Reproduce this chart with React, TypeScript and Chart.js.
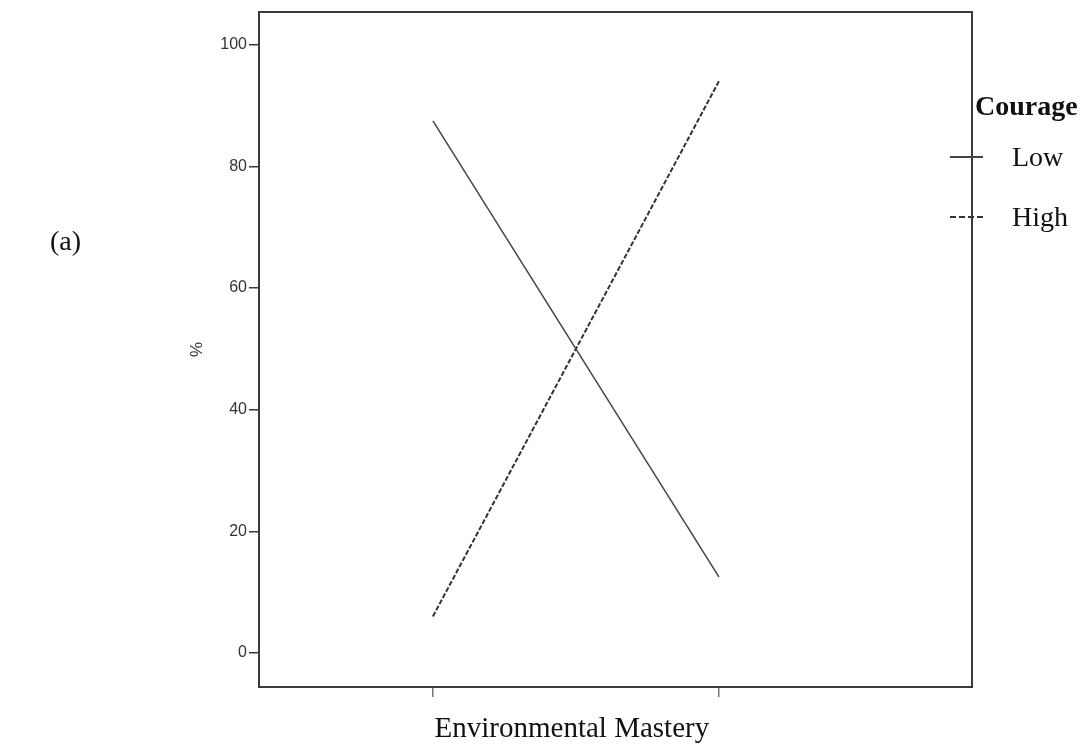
import React, { useEffect, useRef } from "react";
import { Chart, registerables } from "chart.js";

Chart.register(...registerables);

// ---- data ----
const categories = ["Low", "High"]; // Environmental Mastery levels (x = 0, 1)
const xPositions = [0, 1];
const lowCourage = [87.5, 12.5];
const highCourage = [6.0, 94.0];
const yTickValues = [0, 20, 40, 60, 80, 100];
const seriesLabels = ["Low", "High"];
const legendTitle = "Courage";
const xTitle = "Environmental Mastery";
const yTitle = "%";
const panelLabel = "(a)";

const SERIF = "'Liberation Serif', 'DejaVu Serif', serif";
const SANS = "'Liberation Sans', Arial, sans-serif";

const decorPlugin = {
  id: "decor",
  afterDraw(chart: any) {
    const { ctx, chartArea, scales } = chart;
    const { left, top, right, bottom } = chartArea;
    ctx.save();
    // frame
    ctx.strokeStyle = "#3a3a3a";
    ctx.lineWidth = 2;
    ctx.setLineDash([]);
    ctx.beginPath();
    ctx.rect(left, top, right - left, bottom - top);
    ctx.stroke();

    // y title
    ctx.fillStyle = "#333";
    ctx.font = `17px ${SANS}`;
    ctx.textAlign = "center";
    ctx.textBaseline = "middle";
    ctx.save();
    ctx.translate(left - 62, (top + bottom) / 2);
    ctx.rotate(-Math.PI / 2);
    ctx.fillText(yTitle, 0, 0);
    ctx.restore();

    // x title
    const x0 = scales.x.getPixelForValue(xPositions[0]);
    const x1 = scales.x.getPixelForValue(xPositions[1]);
    ctx.fillStyle = "#111";
    ctx.font = `29px ${SERIF}`;
    ctx.textAlign = "center";
    ctx.textBaseline = "alphabetic";
    ctx.fillText(xTitle, (x0 + x1) / 2 - 4, 737);

    // panel label
    ctx.textAlign = "left";
    ctx.font = `28px ${SERIF}`;
    ctx.fillText(panelLabel, 50, 250);

    // legend
    ctx.font = `bold 28px ${SERIF}`;
    ctx.fillText(legendTitle, 975, 115);
    ctx.font = `28px ${SERIF}`;
    const rows = [
      { y: 157, ds: chart.data.datasets[0] },
      { y: 217, ds: chart.data.datasets[1] },
    ];
    rows.forEach((r, i) => {
      ctx.strokeStyle = r.ds.borderColor;
      ctx.lineWidth = 1.8;
      ctx.setLineDash(i === 0 ? [] : [6, 3]);
      ctx.beginPath();
      ctx.moveTo(950, r.y);
      ctx.lineTo(i === 0 ? 983 : 986, r.y);
      ctx.stroke();
      ctx.setLineDash([]);
      ctx.fillStyle = "#111";
      ctx.textBaseline = "middle";
      ctx.fillText(seriesLabels[i], 1012, r.y + 2);
    });
    ctx.restore();
  },
};

export default function App() {
  const ref = useRef<HTMLCanvasElement | null>(null);
  useEffect(() => {
    if (!ref.current) return;
    const chart = new Chart(ref.current, {
      type: "line",
      data: {
        datasets: [
          {
            label: seriesLabels[0],
            data: xPositions.map((x, i) => ({ x, y: lowCourage[i] })),
            borderColor: "#444444",
            borderWidth: 1.5,
            pointRadius: 0,
            tension: 0,
          },
          {
            label: seriesLabels[1],
            data: xPositions.map((x, i) => ({ x, y: highCourage[i] })),
            borderColor: "#333333",
            borderWidth: 2,
            borderDash: [5, 2],
            pointRadius: 0,
            tension: 0,
          },
        ],
      },
      options: {
        responsive: false,
        animation: false,
        devicePixelRatio: 1,
        layout: { padding: { top: 12, right: 112, left: 0, bottom: 0 } },
        plugins: { legend: { display: false }, tooltip: { enabled: false } },
        scales: {
          x: {
            type: "linear",
            min: -0.608,
            max: 1.885,
            afterBuildTicks: (s: any) => {
              s.ticks = xPositions.map((v) => ({ value: v }));
            },
            afterFit: (s: any) => {
              s.height = 58;
            },
            ticks: { callback: (_v: any, i: number) => (categories[i] ? "" : ""), font: { size: 1 } },
            grid: {
              drawOnChartArea: false,
              drawTicks: true,
              tickLength: 10,
              color: "#777",
              lineWidth: 1.5,
            },
            border: { display: false },
          },
          y: {
            type: "linear",
            min: -5.6,
            max: 105.4,
            afterBuildTicks: (s: any) => {
              s.ticks = yTickValues.map((v) => ({ value: v }));
            },
            afterFit: (s: any) => {
              s.width = 259;
            },
            ticks: {
              color: "#333",
              padding: 2,
              font: { family: SANS, size: 16 },
            },
            grid: {
              drawOnChartArea: false,
              drawTicks: true,
              tickLength: 10,
              color: "#3a3a3a",
              lineWidth: 1.5,
            },
            border: { display: false },
          },
        },
      },
      plugins: [decorPlugin],
    });
    return () => chart.destroy();
  }, []);
  return (
    <div style={{ position: "absolute", left: 0, top: 0, width: 1084, height: 745, background: "#fff" }}>
      <canvas ref={ref} width={1084} height={745} style={{ width: 1084, height: 745 }} />
    </div>
  );
}
